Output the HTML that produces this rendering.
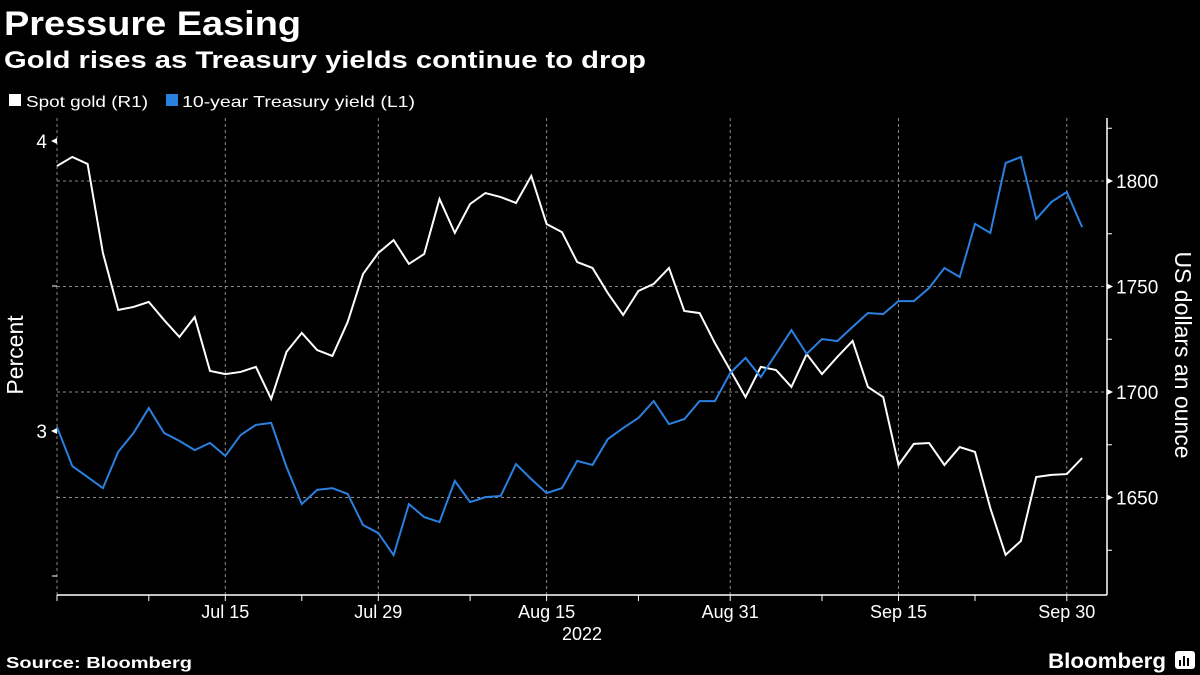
<!DOCTYPE html>
<html><head><meta charset="utf-8"><style>
html,body{margin:0;padding:0;background:#000;width:1200px;height:675px;overflow:hidden}
svg{display:block}
text{font-family:"Liberation Sans","DejaVu Sans",sans-serif;fill:#fff}
</style></head><body>
<svg id="chart" width="1200" height="675" viewBox="0 0 1200 675" xmlns="http://www.w3.org/2000/svg">
<rect width="1200" height="675" fill="#000"/>
<text x="4" y="35" font-size="34" font-weight="bold" textLength="297" lengthAdjust="spacingAndGlyphs">Pressure Easing</text>
<text x="4" y="68" font-size="24" font-weight="bold" textLength="642" lengthAdjust="spacingAndGlyphs">Gold rises as Treasury yields continue to drop</text>
<g>
<rect x="9" y="94" width="12" height="12" fill="#fff"/>
<text x="26" y="107" font-size="16" textLength="122" lengthAdjust="spacingAndGlyphs">Spot gold (R1)</text>
<rect x="166" y="94" width="12" height="12" fill="#2a80e0"/>
<text x="182" y="107" font-size="16" textLength="233" lengthAdjust="spacingAndGlyphs">10-year Treasury yield (L1)</text>
</g>
<g id="grid"></g>
<g id="axes"></g>
<g id="series"></g>
<text transform="translate(23,355) rotate(-90)" text-anchor="middle" font-size="23">Percent</text>
<text transform="translate(1175,355) rotate(90)" text-anchor="middle" font-size="23">US dollars an ounce</text>
<text x="582" y="640" text-anchor="middle" font-size="18">2022</text>
<text x="6" y="668" font-size="16" font-weight="bold" textLength="186" lengthAdjust="spacingAndGlyphs">Source: Bloomberg</text>
<text x="1048" y="668" font-size="21" font-weight="bold" textLength="118" lengthAdjust="spacingAndGlyphs">Bloomberg</text>
<g><rect x="1175" y="651" width="20" height="18" rx="3" fill="#fff"/><rect x="1179" y="660" width="2" height="6" fill="#000"/><rect x="1183" y="656" width="2" height="10" fill="#000"/><rect x="1187" y="658" width="2" height="8" fill="#000"/></g>
</svg>
<script>
const goldValues=[1807.1,1811.4,1808.1,1765.9,1738.9,1740.3,1742.7,1734.1,1726.1,1735.5,1710.0,1708.5,1709.5,1711.9,1696.7,1719.0,1728.0,1719.9,1717.1,1733.2,1755.9,1765.9,1772.0,1760.7,1765.4,1791.5,1775.4,1789.1,1794.3,1792.4,1789.6,1802.4,1779.6,1775.8,1761.6,1758.8,1746.9,1736.5,1747.9,1751.2,1758.8,1738.4,1737.4,1723.2,1710.4,1697.6,1711.9,1710.4,1702.4,1718.0,1708.5,1716.6,1724.2,1702.4,1697.6,1665.4,1675.4,1675.8,1665.4,1673.9,1671.6,1645.0,1622.8,1629.4,1659.7,1660.7,1661.1,1668.7];
const yieldValues=[3.014,2.879,2.841,2.803,2.928,2.993,3.079,2.993,2.966,2.934,2.959,2.914,2.986,3.021,3.028,2.876,2.748,2.797,2.803,2.783,2.676,2.648,2.572,2.748,2.703,2.686,2.828,2.755,2.772,2.776,2.886,2.834,2.786,2.803,2.897,2.883,2.972,3.010,3.045,3.103,3.024,3.041,3.103,3.103,3.200,3.252,3.186,3.266,3.348,3.266,3.317,3.310,3.359,3.407,3.403,3.448,3.448,3.493,3.562,3.531,3.714,3.683,3.924,3.945,3.731,3.790,3.824,3.703];
const xLabels=["Jul 15","Jul 29","Aug 15","Aug 31","Sep 15","Sep 30"];
const xLabelIdx=[11,21,32,44,55,66];
const xTickIdx=[0,6,11,16,21,27,32,38,44,50,55,60,66];
const rightTicks=[1650,1700,1750,1800];
const rightMinor=[1625,1675,1725,1775,1825];
const leftTicks=[3,4];
const leftMinor=[2.5,3.5];

const NS="http://www.w3.org/2000/svg";
const X0=57,DX=15.3,PL=57,PR=1107,PT=118,PB=595;
function xs(i){return X0+DX*i;}
function yGold(v){return 181+(1800-v)*105.5/50;}
function yYield(v){return 141+(4-v)*290;}
function mk(tag,attrs,parent){const e=document.createElementNS(NS,tag);for(const k in attrs)e.setAttribute(k,attrs[k]);parent.appendChild(e);return e;}
const grid=document.getElementById('grid'),axes=document.getElementById('axes'),series=document.getElementById('series');
const dash={stroke:'#8a8a8a','stroke-width':1,'stroke-dasharray':'3,3'};
rightTicks.forEach(v=>{const l=mk('line',Object.assign({x1:PL,x2:PR,y1:yGold(v),y2:yGold(v)},dash),grid);

});
const lg=mk('line',Object.assign({x1:PL,x2:PL,y1:PT,y2:PB},dash),grid);


xLabelIdx.forEach(i=>{const l=mk('line',Object.assign({x1:xs(i),x2:xs(i),y1:PT,y2:PB},dash),grid);

});
const ba=mk('line',{x1:PL,x2:PR,y1:PB,y2:PB,stroke:'#fff','stroke-width':1.5},axes);


xTickIdx.forEach(i=>{const t=mk('line',{x1:xs(i),x2:xs(i),y1:PB,y2:PB+6,stroke:'#fff','stroke-width':1},axes);

});
xLabels.forEach((s,k)=>{const t=mk('text',{x:xs(xLabelIdx[k]),y:618,'text-anchor':'middle','font-size':18},axes);t.textContent=s;

});
const ra=mk('line',{x1:PR,x2:PR,y1:PT,y2:PB,stroke:'#fff','stroke-width':1.5},axes);


rightTicks.forEach(v=>{const y=yGold(v);mk('path',{d:`M${PR} ${y-3}L${PR+6} ${y}L${PR} ${y+3}Z`,fill:'#fff'},axes);
const t=mk('text',{x:1116,y:y+7,'font-size':19},axes);t.textContent=v;

});
rightMinor.forEach(v=>{const y=yGold(v);if(y<PT||y>PB)return;mk('line',{x1:PR,x2:PR+5,y1:y,y2:y,stroke:'#fff'},axes);});
leftTicks.forEach(v=>{const y=yYield(v);mk('path',{d:`M${PL} ${y-3}L${PL-6} ${y}L${PL} ${y+3}Z`,fill:'#fff'},axes);
const t=mk('text',{x:47,y:y+7,'font-size':19,'text-anchor':'end'},axes);t.textContent=v;

});
leftMinor.forEach(v=>{const y=yYield(v);mk('line',{x1:PL-5,x2:PL,y1:y,y2:y,stroke:'#fff'},axes);});
const gp=mk('polyline',{points:goldValues.map((v,i)=>xs(i)+','+yGold(v)).join(' '),fill:'none',stroke:'#fff','stroke-width':2,'stroke-linejoin':'miter'},series);


const yp=mk('polyline',{points:yieldValues.map((v,i)=>xs(i)+','+yYield(v)).join(' '),fill:'none',stroke:'#2a80e0','stroke-width':2},series);


</script>
</body></html>
